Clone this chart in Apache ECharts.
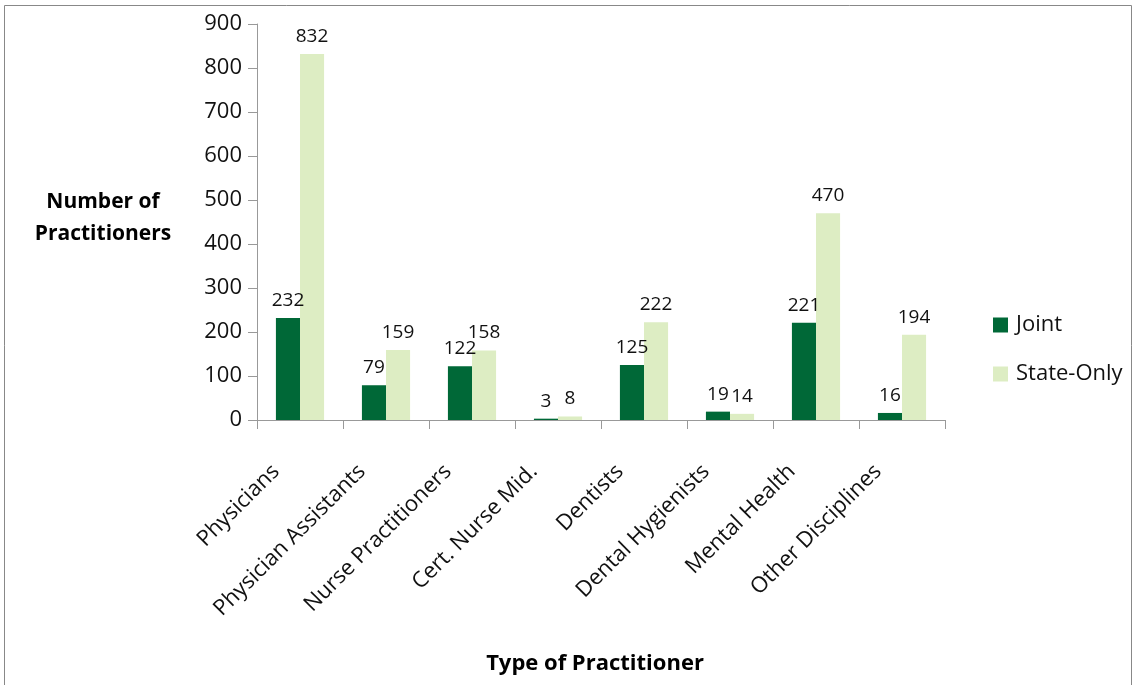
<!DOCTYPE html>
<html><head><meta charset="utf-8">
<script src="https://cdn.jsdelivr.net/npm/echarts@6/dist/echarts.min.js"></script>
<style>html,body{margin:0;padding:0;background:#fff}#c{width:1134px;height:685px}</style>
</head><body><div id="c"></div>
<script>
const categories = ["Physicians","Physician Assistants","Nurse Practitioners","Cert. Nurse Mid.","Dentists","Dental Hygienists","Mental Health","Other Disciplines"];
const jointValues = [232,79,122,3,125,19,221,16];
const stateOnlyValues = [832,159,158,8,222,14,470,194];
const yTicks = {min:0,max:900,interval:100};

const FONT = '"Open Sans", sans-serif';
const chart = echarts.init(document.getElementById('c'));
const lbl = {show:true,position:'top',distance:8,color:'#111',fontSize:19,fontFamily:FONT};
chart.setOption({
  animation:false,
  textStyle:{fontFamily:FONT},
  graphic:[{type:'rect',shape:{x:4.5,y:5.5,width:1127,height:690},style:{fill:'none',stroke:'#888',lineWidth:1}},
    {type:'text',x:103,y:186,style:{text:'Number of\nPractitioners',font:'bold 21px '+FONT,fill:'#000',lineHeight:32,align:'center'}}],
  grid:{left:257,top:24,right:189,bottom:265,outerBoundsMode:'none',containLabel:false},
  legend:{orient:'vertical',left:988,top:309,itemGap:27,itemWidth:15,itemHeight:15,icon:'rect',
    textStyle:{fontSize:22,color:'#111',fontFamily:FONT,padding:[0,0,0,3]},data:['Joint','State-Only']},
  xAxis:{type:'category',data:categories,
    axisLine:{lineStyle:{color:'#999'}},
    axisTick:{show:true,length:9,lineStyle:{color:'#999'}},
    axisLabel:{rotate:45,fontSize:22,color:'#111',margin:24,padding:[0,34,0,0],fontFamily:FONT,interval:0},
    name:'Type of Practitioner',nameLocation:'middle',nameGap:233,
    nameTextStyle:{fontSize:22,fontWeight:'bold',color:'#000',fontFamily:FONT,padding:[0,12,0,0]}},
  yAxis:{type:'value',min:yTicks.min,max:yTicks.max,interval:yTicks.interval,
    axisLine:{show:true,lineStyle:{color:'#999'}},
    axisTick:{show:true,length:9,lineStyle:{color:'#999'}},
    splitLine:{show:false},
    axisLabel:{fontSize:22,color:'#111',margin:15,fontFamily:FONT}},
  series:[
    {name:'Joint',type:'bar',data:jointValues,barGap:'0%',barCategoryGap:'44%',itemStyle:{color:'#006837'},label:lbl},
    {name:'State-Only',type:'bar',data:stateOnlyValues,itemStyle:{color:'#DDEDC3'},label:lbl}
  ]
});
</script></body></html>
